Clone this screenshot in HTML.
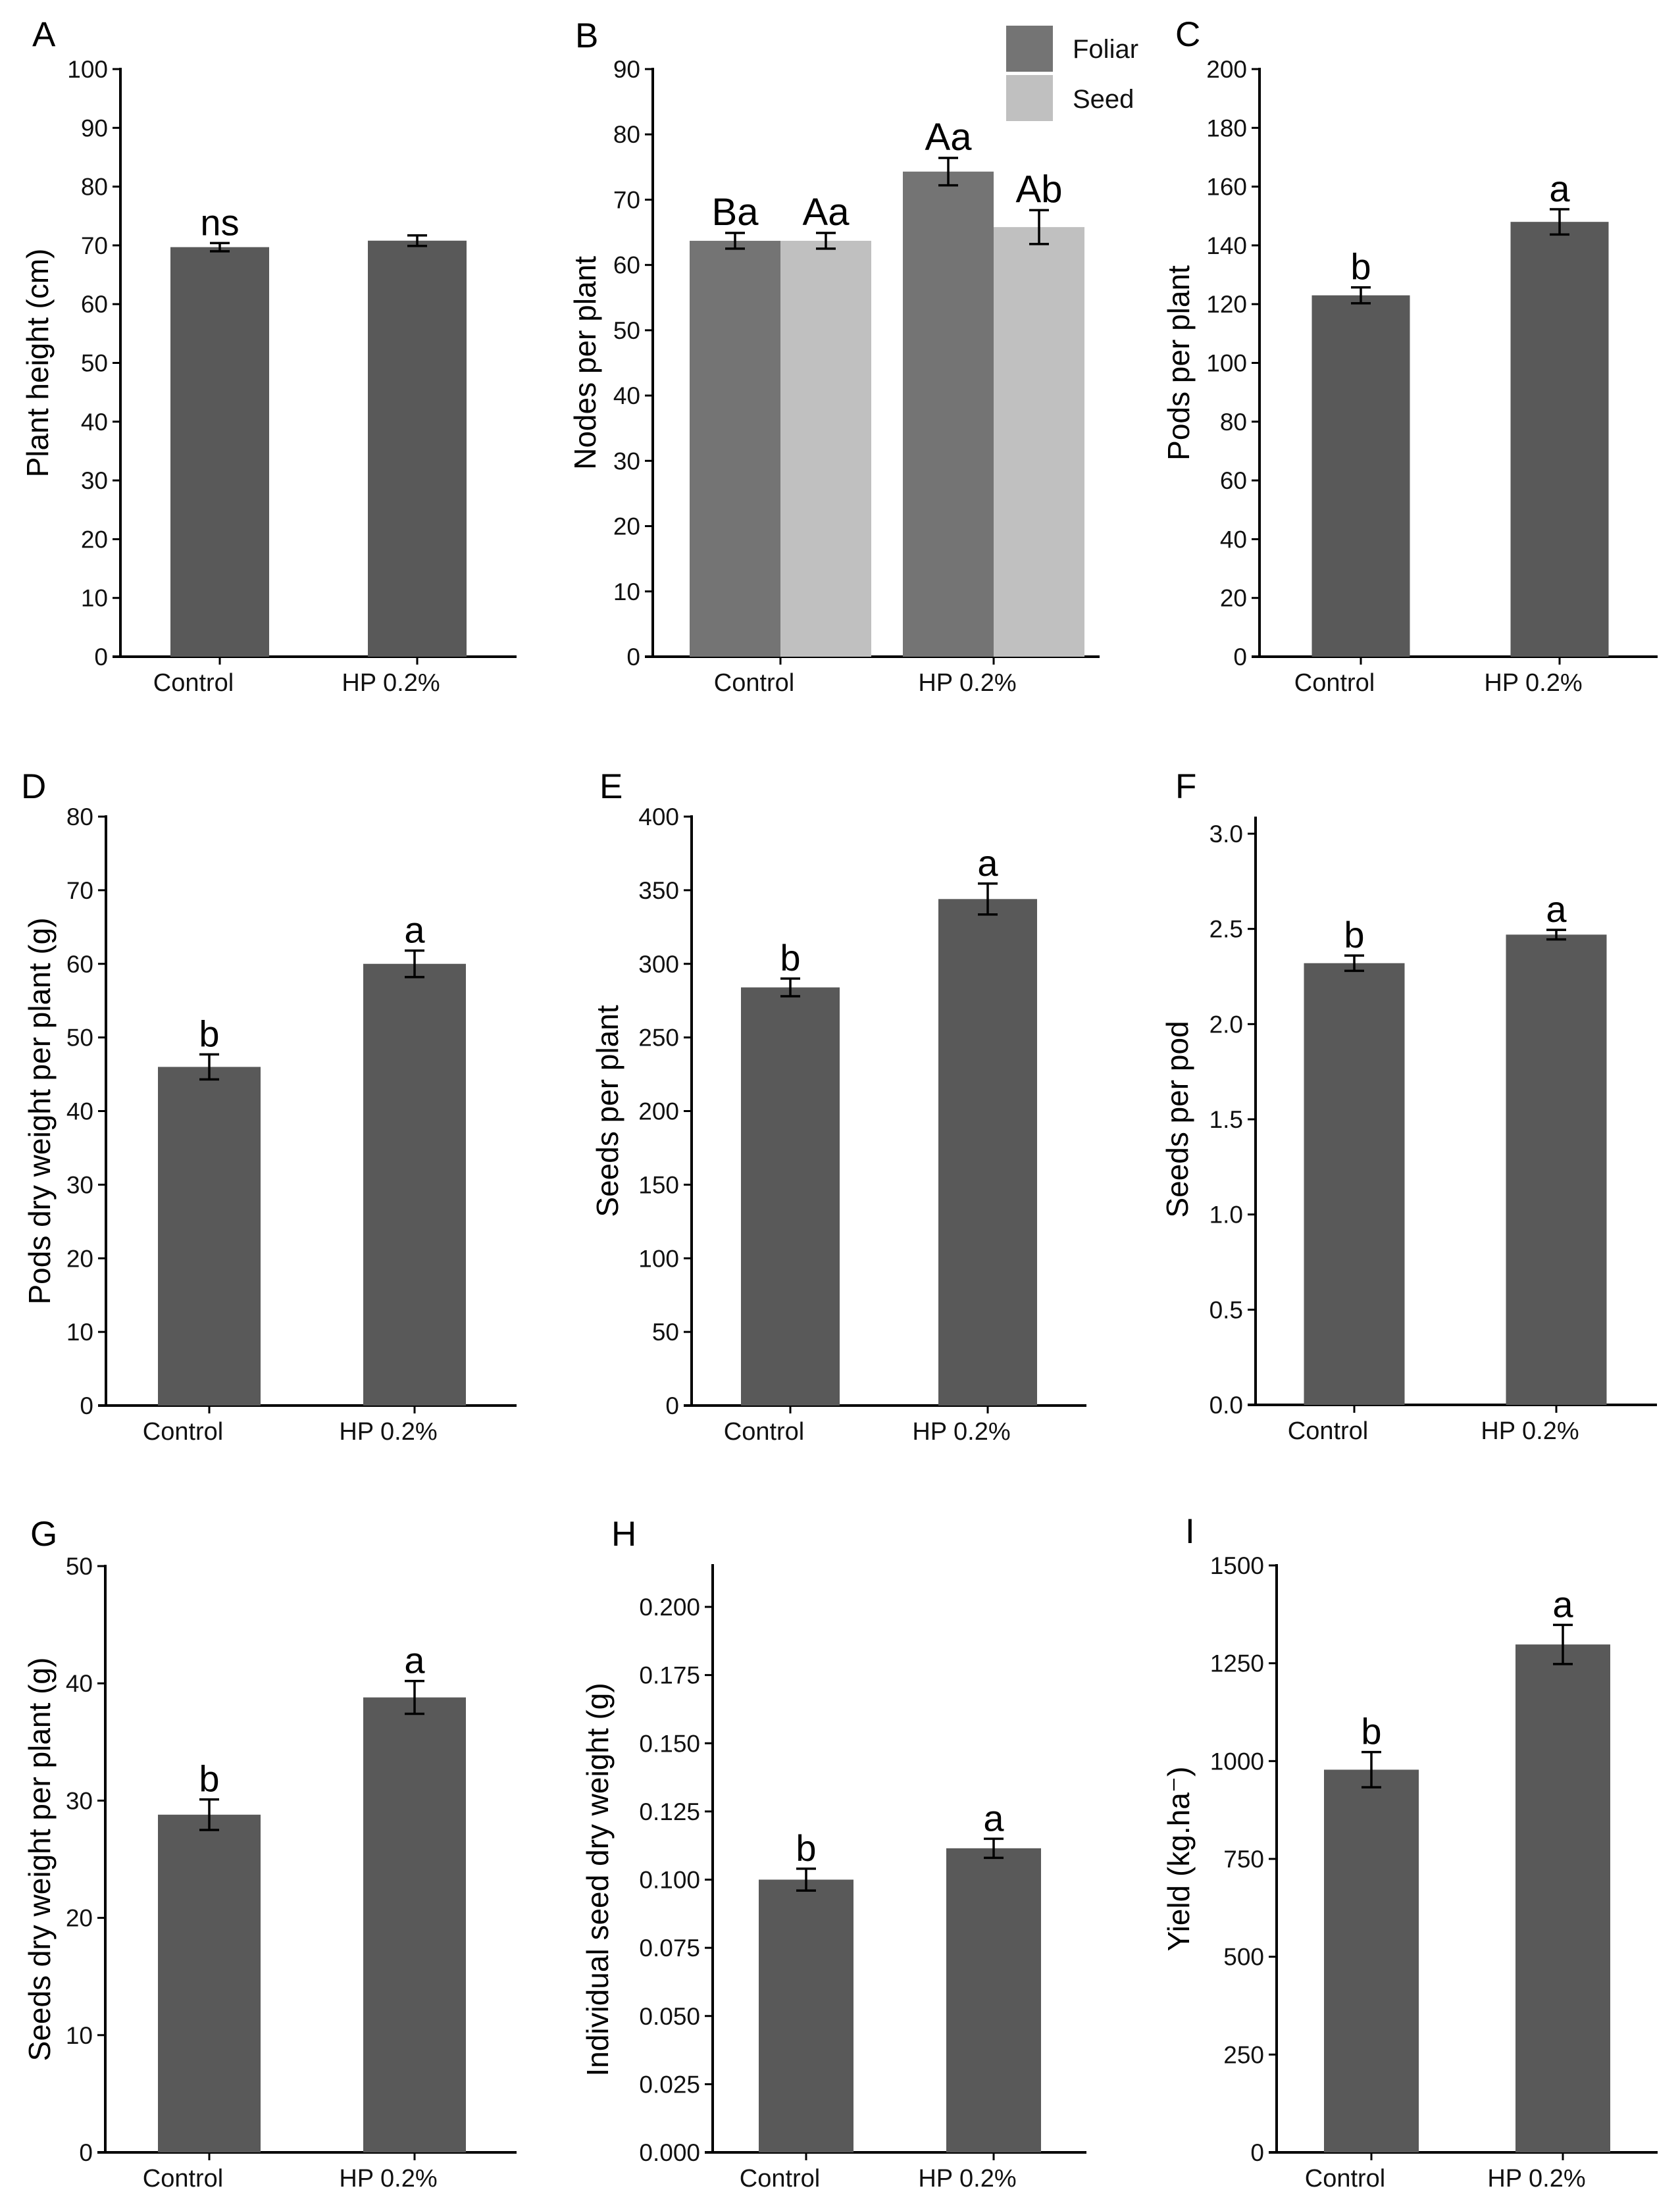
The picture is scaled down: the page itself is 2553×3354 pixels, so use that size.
<!DOCTYPE html>
<html><head><meta charset="utf-8"><title>Panels A–I</title>
<style>
html,body{margin:0;padding:0;background:#fff;}
svg{display:block;font-family:"Liberation Sans",Arial,sans-serif;}
</style></head>
<body>
<svg id="fig" width="2553" height="3354" viewBox="0 0 2553 3354" xmlns="http://www.w3.org/2000/svg"></svg>
<script>
// ---------- DATA ----------
const categories = ["Control", "HP 0.2%"];

const ticksA = [0,10,20,30,40,50,60,70,80,90,100];
const tickLabelsA = ["0","10","20","30","40","50","60","70","80","90","100"];
const valuesA = [69.7, 70.8];
const errorsA = [0.7, 0.9];
const lettersA = ["ns", ""];

const seriesB = ["Foliar", "Seed"];
const ticksB = [0,10,20,30,40,50,60,70,80,90];
const tickLabelsB = ["0","10","20","30","40","50","60","70","80","90"];
const foliarB = [63.7, 74.3];
const foliarErrB = [1.2, 2.1];
const seedB = [63.7, 65.8];
const seedErrB = [1.2, 2.6];
const foliarLettersB = ["Ba", "Aa"];
const seedLettersB = ["Aa", "Ab"];

const ticksC = [0,20,40,60,80,100,120,140,160,180,200];
const tickLabelsC = ["0","20","40","60","80","100","120","140","160","180","200"];
const valuesC = [123, 148];
const errorsC = [2.7, 4.3];
const lettersC = ["b", "a"];

const ticksD = [0,10,20,30,40,50,60,70,80];
const tickLabelsD = ["0","10","20","30","40","50","60","70","80"];
const valuesD = [46.0, 60.0];
const errorsD = [1.7, 1.8];
const lettersD = ["b", "a"];

const ticksE = [0,50,100,150,200,250,300,350,400];
const tickLabelsE = ["0","50","100","150","200","250","300","350","400"];
const valuesE = [284, 344];
const errorsE = [6, 10.5];
const lettersE = ["b", "a"];

const ticksF = [0,0.5,1.0,1.5,2.0,2.5,3.0];
const tickLabelsF = ["0.0","0.5","1.0","1.5","2.0","2.5","3.0"];
const valuesF = [2.32, 2.47];
const errorsF = [0.04, 0.025];
const lettersF = ["b", "a"];

const ticksG = [0,10,20,30,40,50];
const tickLabelsG = ["0","10","20","30","40","50"];
const valuesG = [28.8, 38.8];
const errorsG = [1.3, 1.4];
const lettersG = ["b", "a"];

const ticksH = [0,0.025,0.05,0.075,0.1,0.125,0.15,0.175,0.2];
const tickLabelsH = ["0.000","0.025","0.050","0.075","0.100","0.125","0.150","0.175","0.200"];
const valuesH = [0.100, 0.1115];
const errorsH = [0.004, 0.0035];
const lettersH = ["b", "a"];

const ticksI = [0,250,500,750,1000,1250,1500];
const tickLabelsI = ["0","250","500","750","1000","1250","1500"];
const valuesI = [978, 1298];
const errorsI = [45, 50];
const lettersI = ["b", "a"];

// ---------- LAYOUT ----------
const svg = document.getElementById('fig');
const NS = "http://www.w3.org/2000/svg";
function mk(tag, attrs, parent){
  const e = document.createElementNS(NS, tag);
  for (const k in attrs) e.setAttribute(k, attrs[k]);
  (parent||svg).appendChild(e);
  return e;
}

const panels = [
  {id:"a", letter:"A", lx:49, ly:70, title:"Plant height (cm)", tx:57,
   axisX:183, xEnd:785, yTop:105, yMaxPix:105, y0:998, vmax:100,
   centers:[334,634], barW:150, ticks:ticksA, labels:tickLabelsA, values:valuesA, errors:errorsA, letters:lettersA},
  {id:"c", letter:"C", lx:1786, ly:70, title:"Pods per plant", tx:1791,
   axisX:1914, xEnd:2519, yTop:105, yMaxPix:105, y0:998, vmax:200,
   centers:[2068,2370], barW:149, ticks:ticksC, labels:tickLabelsC, values:valuesC, errors:errorsC, letters:lettersC},
  {id:"d", letter:"D", lx:32, ly:1213, title:"Pods dry weight per plant (g)", tx:60,
   axisX:161, xEnd:785, yTop:1241, yMaxPix:1241, y0:2136, vmax:80,
   centers:[318,630], barW:156, ticks:ticksD, labels:tickLabelsD, values:valuesD, errors:errorsD, letters:lettersD},
  {id:"e", letter:"E", lx:911, ly:1213, title:"Seeds per plant", tx:923,
   axisX:1051, xEnd:1651, yTop:1241, yMaxPix:1241, y0:2136, vmax:400,
   centers:[1201,1501], barW:150, ticks:ticksE, labels:tickLabelsE, values:valuesE, errors:errorsE, letters:lettersE},
  {id:"f", letter:"F", lx:1786, ly:1213, title:"Seeds per pod", tx:1789,
   axisX:1908, xEnd:2518, yTop:1243, yMaxPix:1267, y0:2135, vmax:3.0,
   centers:[2058,2365], barW:153, ticks:ticksF, labels:tickLabelsF, values:valuesF, errors:errorsF, letters:lettersF},
  {id:"g", letter:"G", lx:46, ly:2349, title:"Seeds dry weight per plant (g)", tx:60,
   axisX:160, xEnd:785, yTop:2380, yMaxPix:2380, y0:3271, vmax:50,
   centers:[318,630], barW:156, ticks:ticksG, labels:tickLabelsG, values:valuesG, errors:errorsG, letters:lettersG},
  {id:"h", letter:"H", lx:929, ly:2349, title:"Individual seed dry weight (g)", tx:908,
   axisX:1083, xEnd:1651, yTop:2379, yMaxPix:2442, y0:3271, vmax:0.2,
   centers:[1225,1510], barW:144, ticks:ticksH, labels:tickLabelsH, values:valuesH, errors:errorsH, letters:lettersH},
  {id:"i", letter:"I", lx:1801, ly:2345, title:"Yield (kg.ha\u207B)", tx:1791,
   axisX:1940, xEnd:2519, yTop:2379, yMaxPix:2379, y0:3271, vmax:1500,
   centers:[2084,2375], barW:144, ticks:ticksI, labels:tickLabelsI, values:valuesI, errors:errorsI, letters:lettersI}
];

function drawAxes(p, g){
  const y = v => p.y0 - (v / p.vmax) * (p.y0 - p.yMaxPix);
  const ya = mk('line',{x1:p.axisX,y1:p.yTop-2,x2:p.axisX,y2:p.y0+2,stroke:'#000','stroke-width':4},g);
  
  
  p.ticks.forEach((t,i)=>{
    const ty = y(t);
    const tl = mk('line',{x1:p.axisX-12,y1:ty,x2:p.axisX,y2:ty,stroke:'#000','stroke-width':3},g);
    
    
    const tx = mk('text',{x:p.axisX-19,y:ty+13,'text-anchor':'end','font-size':37,fill:'#111'},g);
    tx.textContent = p.labels[i];
    
    
  });
  const xa = mk('line',{x1:p.axisX-12,y1:p.y0,x2:p.xEnd,y2:p.y0,stroke:'#000','stroke-width':4},g);
  
  
  p.centers.forEach((cx,i)=>{
    const tk = mk('line',{x1:cx,y1:p.y0,x2:cx,y2:p.y0+12,stroke:'#000','stroke-width':3},g);
    
    
    const lb = mk('text',{x:cx-40,y:p.y0+52,'text-anchor':'middle','font-size':38,fill:'#111'},g);
    lb.textContent = categories[i];
    
    
  });
  const L = mk('text',{x:p.lx,y:p.ly,'font-size':53,fill:'#000'},g);
  L.textContent = p.letter;
  
  
  const midY = (p.yMaxPix + p.y0)/2;
  const T = mk('text',{x:0,y:0,'text-anchor':'middle','font-size':46,fill:'#000',
    transform:`translate(${p.tx+16},${midY}) rotate(-90)`},g);
  T.textContent = p.title;
  
  
  return y;
}

function drawBar(g, cx, w, v, err, y0, y, color, letter, fs){
  const top = y(v);
  const r = mk('rect',{x:cx-w/2,y:top,width:w,height:y0-top,fill:color},g);
  
  
  const e1 = y(v+err), e2 = y(v-err);
  const eg = mk('g',{stroke:'#000','stroke-width':3.5},g);
  
  
  mk('line',{x1:cx,y1:e1,x2:cx,y2:e2},eg);
  mk('line',{x1:cx-15,y1:e1,x2:cx+15,y2:e1},eg);
  mk('line',{x1:cx-15,y1:e2,x2:cx+15,y2:e2},eg);
  if (letter){
    const t = mk('text',{x:cx,y:e1-12,'text-anchor':'middle','font-size':fs,fill:'#000'},g);
    t.textContent = letter;
    
    
  }
}

panels.forEach(p=>{
  const g = mk('g',{});
  
  
  const y = drawAxes(p, g);
  p.values.forEach((v,i)=>{
    drawBar(g, p.centers[i], p.barW, v, p.errors[i], p.y0, y, '#595959', p.letters[i], 56);
  });
});

// ---------- PANEL B (grouped) ----------
const pB = {id:"b", letter:"B", lx:874, ly:72, title:"Nodes per plant", tx:889,
  axisX:992, xEnd:1671, yTop:105, yMaxPix:105, y0:998, vmax:90,
  centers:[1186,1510], barW:138, ticks:ticksB, labels:tickLabelsB};
const gB = mk('g',{});


const yB = drawAxes(pB, gB);
const colorsB = ['#747474', '#c0c0c0'];
categories.forEach((c,i)=>{
  const cx = pB.centers[i];
  drawBar(gB, cx - pB.barW/2, pB.barW, foliarB[i], foliarErrB[i], pB.y0, yB, colorsB[0], foliarLettersB[i], 58);
  drawBar(gB, cx + pB.barW/2, pB.barW, seedB[i], seedErrB[i], pB.y0, yB, colorsB[1], seedLettersB[i], 58);
});
seriesB.forEach((s,i)=>{
  const lg = mk('g',{},gB);
  
  
  const r = mk('rect',{x:1529,y:39+i*75,width:71,height:70,fill:colorsB[i]},lg);
  
  
  const t = mk('text',{x:1630,y:88+i*76,'font-size':40,fill:'#111'},lg);
  t.textContent = s;
  
  
});
</script>
</body></html>
